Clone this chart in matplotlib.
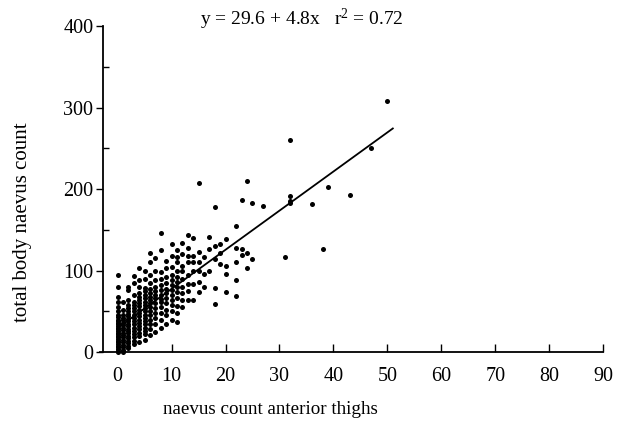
import numpy as np
import matplotlib
matplotlib.use("Agg")
import matplotlib.pyplot as plt

plt.rcParams["font.family"] = "Liberation Serif"
plt.rcParams["mathtext.fontset"] = "custom"
plt.rcParams["mathtext.rm"] = "Liberation Serif"
plt.rcParams["mathtext.it"] = "Liberation Serif:italic"

# naevus count on anterior thighs -> list of total body counts
cols = {
    0: [0, 2, 4, 6, 8, 10, 12, 14, 16, 18, 20, 22, 24, 26, 28, 30, 32, 34, 36, 38, 40, 43, 46, 50, 55, 62, 68, 80, 95],
    1: [0, 3, 6, 9, 12, 15, 18, 21, 24, 27, 30, 33, 36, 39, 42, 46, 52, 62],
    2: [5, 8, 11, 14, 17, 20, 23, 26, 29, 32, 35, 38, 41, 44, 47, 50, 54, 58, 64, 76, 80],
    3: [10, 14, 18, 22, 26, 30, 34, 38, 42, 46, 50, 54, 58, 62, 70, 85, 94],
    4: [12, 20, 24, 28, 32, 36, 40, 44, 48, 52, 56, 60, 64, 68, 72, 80, 88, 103],
    5: [15, 22, 26, 30, 34, 38, 42, 46, 50, 54, 58, 62, 66, 70, 75, 79, 90, 100],
    6: [21, 28, 34, 40, 45, 50, 55, 60, 64, 68, 72, 78, 85, 95, 110, 122],
    7: [25, 35, 42, 48, 54, 60, 66, 70, 75, 80, 88, 100, 115],
    8: [30, 40, 48, 55, 62, 65, 70, 76, 82, 90, 98, 125, 146],
    9: [34, 45, 52, 60, 66, 72, 78, 85, 92, 103, 112],
    10: [40, 50, 58, 64, 70, 76, 82, 88, 95, 105, 118, 133],
    11: [37, 48, 56, 66, 74, 80, 86, 92, 100, 110, 117, 125],
    12: [55, 64, 72, 80, 90, 100, 106, 120, 134],
    13: [64, 75, 84, 95, 110, 118, 128, 144],
    14: [64, 84, 100, 111, 118, 140],
    15: [74, 86, 100, 111, 123, 208],
    16: [80, 96, 117],
    17: [100, 127, 141],
    18: [59, 79, 114, 130, 178],
    19: [108, 122, 133],
    20: [74, 96, 106, 139],
    22: [69, 89, 110, 128, 155],
    23: [119, 126, 187],
    24: [103, 122, 210],
    25: [114, 183],
    27: [179],
    31: [117],
    32: [183, 185, 191, 260],
    36: [182],
    38: [127],
    39: [203],
    43: [193],
    47: [250],
    50: [308],
}

intercept, slope = 29.6, 4.8
line_x = [0, 51]

x = [k for k, v in cols.items() for _ in v]
y = [val for v in cols.values() for val in v]

fig = plt.figure(figsize=(6.34, 4.24), dpi=100)
ax = fig.add_axes([103/634, (424-355)/424, 503/634, (355-22)/424])
ax.set_xlim(-2.7, 90.5)
ax.set_ylim(-3.5, 405)

ax.scatter(x, y, s=13, color="black", linewidths=0, zorder=3)
lx = np.array(line_x)
ax.plot(lx, intercept + slope*lx, color="black", lw=1.3)

for s in ["top", "right"]:
    ax.spines[s].set_visible(False)
ax.spines["left"].set_bounds(0, 400)
ax.spines["bottom"].set_position(("data", 0))
ax.spines["bottom"].set_bounds(-3.3, 90)
ax.spines["left"].set_linewidth(1.3)
ax.spines["bottom"].set_linewidth(1.3)

ax.set_yticks([0, 100, 200, 300, 400])
ax.set_yticks([50, 150, 250, 350], minor=True)
ax.set_xticks(range(0, 91, 10))
ax.tick_params(axis="y", which="major", direction="out", length=5, width=1, labelsize=14.5, pad=2)
ax.tick_params(axis="y", which="minor", direction="in", length=4, width=1)
ax.tick_params(axis="x", which="major", direction="in", length=6, width=1, labelsize=14.5, pad=11)

ax.text(15.3, 408, "y = 29.6 + 4.8x   r$^{2}$ = 0.72", fontsize=14, va="center", ha="left")
fig.text(270/634, 1 - 409/424, "naevus count anterior thighs", fontsize=13.7, ha="center", va="center")
fig.text(23/634, 1 - 222/424, "total body naevus count", fontsize=15, rotation=90, ha="center", va="center")

plt.savefig("out.png", dpi=100)
